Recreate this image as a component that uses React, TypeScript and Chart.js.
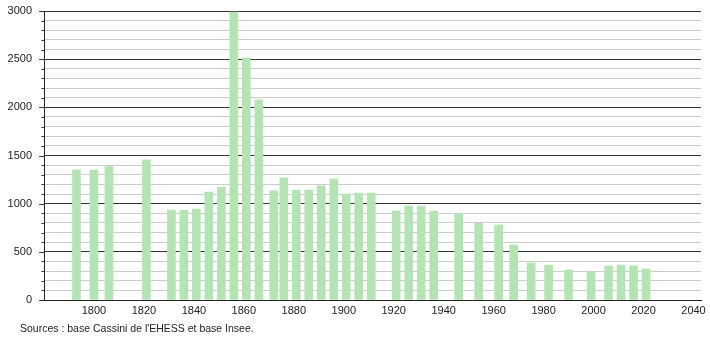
import React, { useEffect, useRef } from "react";
import { Chart, registerables } from "chart.js";

Chart.register(...registerables);

const years = [
  1793, 1800, 1806, 1821, 1831, 1836, 1841, 1846, 1851, 1856, 1861, 1866, 1872,
  1876, 1881, 1886, 1891, 1896, 1901, 1906, 1911, 1921, 1926, 1931, 1936, 1946,
  1954, 1962, 1968, 1975, 1982, 1990, 1999, 2006, 2011, 2016, 2021,
];
const population = [
  1350, 1348, 1384, 1454, 934, 932, 945, 1121, 1173, 2990, 2513, 2077, 1132,
  1267, 1142, 1140, 1184, 1256, 1100, 1111, 1111, 924, 976, 976, 924, 900,
  796, 779, 571, 384, 363, 312, 294, 353, 363, 353, 322,
];
const xTickYears = [1800, 1820, 1840, 1860, 1880, 1900, 1920, 1940, 1960, 1980, 2000, 2020, 2040];
const caption = "Sources : base Cassini de l'EHESS et base Insee.";

const FONT = "'Liberation Sans', Arial, sans-serif";

export default function App() {
  const ref = useRef<HTMLCanvasElement | null>(null);

  useEffect(() => {
    if (!ref.current) return;
    const tickMarks = {
      id: "tickMarks",
      afterDraw(chart: any) {
        const ctx = chart.ctx;
        const y = chart.scales.y;
        const left = chart.chartArea.left;
        ctx.save();
        ctx.lineWidth = 1;
        ctx.strokeStyle = "#333";
        for (const t of y.ticks) {
          const py = Math.round(y.getPixelForValue(t.value)) + 0.5;
          const len = t.value % 500 === 0 ? 5 : 2.5;
          ctx.beginPath();
          ctx.moveTo(left - len, py);
          ctx.lineTo(left, py);
          ctx.stroke();
        }
        ctx.restore();
      },
    };
    const chart = new Chart(ref.current, {
      type: "bar",
      data: {
        datasets: [
          {
            data: years.map((yr, i) => ({ x: yr, y: population[i] })),
            backgroundColor: "rgb(180,228,180)",
            borderWidth: 0,
            barThickness: 8,
          },
        ],
      },
      options: {
        animation: false,
        responsive: false,
        events: [],
        layout: { padding: { left: 0, top: 11, right: 9, bottom: 0 } },
        plugins: { legend: { display: false }, tooltip: { enabled: false } },
        scales: {
          x: {
            type: "linear",
            min: 1780,
            max: 2043,
            offset: false,
            grid: { display: false, drawTicks: false, offset: false },
            border: { display: true, color: "#222", width: 1 },
            afterBuildTicks: (scale: any) => {
              scale.ticks = xTickYears.map((v) => ({ value: v }));
            },
            afterFit: (scale: any) => {
              scale.height = 40;
              scale.paddingLeft = 0;
              scale.paddingRight = 0;
            },
            ticks: {
              autoSkip: false,
              maxRotation: 0,
              padding: 4,
              color: "#222",
              font: { family: FONT, size: 11 },
              callback: (v: any) => String(v),
            },
          },
          y: {
            type: "linear",
            min: 0,
            max: 3000,
            grid: {
              drawTicks: false,
              color: (c: any) => (c.tick && c.tick.value % 500 === 0 ? "#333" : "#cccccc"),
              lineWidth: 1,
            },
            border: { display: true, color: "#222", width: 1 },
            afterFit: (scale: any) => {
              scale.width = 44;
              scale.paddingTop = 0;
              scale.paddingBottom = 0;
            },
            ticks: {
              stepSize: 100,
              autoSkip: false,
              padding: 12,
              color: "#222",
              font: { family: FONT, size: 11 },
              callback: (v: any) => (Number(v) % 500 === 0 ? String(v) : ""),
            },
          },
        },
      },
      plugins: [tickMarks],
    } as any);
    return () => chart.destroy();
  }, []);

  return (
    <div style={{ position: "absolute", left: 0, top: 0, width: 710, height: 340, background: "#fff" }}>
      <canvas ref={ref} width={710} height={340} style={{ display: "block" }} />
      <div
        style={{
          position: "absolute",
          left: 20,
          top: 322,
          fontFamily: FONT,
          fontSize: 10.5,
          lineHeight: "13px",
          color: "#222",
          whiteSpace: "nowrap",
        }}
      >
        {caption}
      </div>
    </div>
  );
}
